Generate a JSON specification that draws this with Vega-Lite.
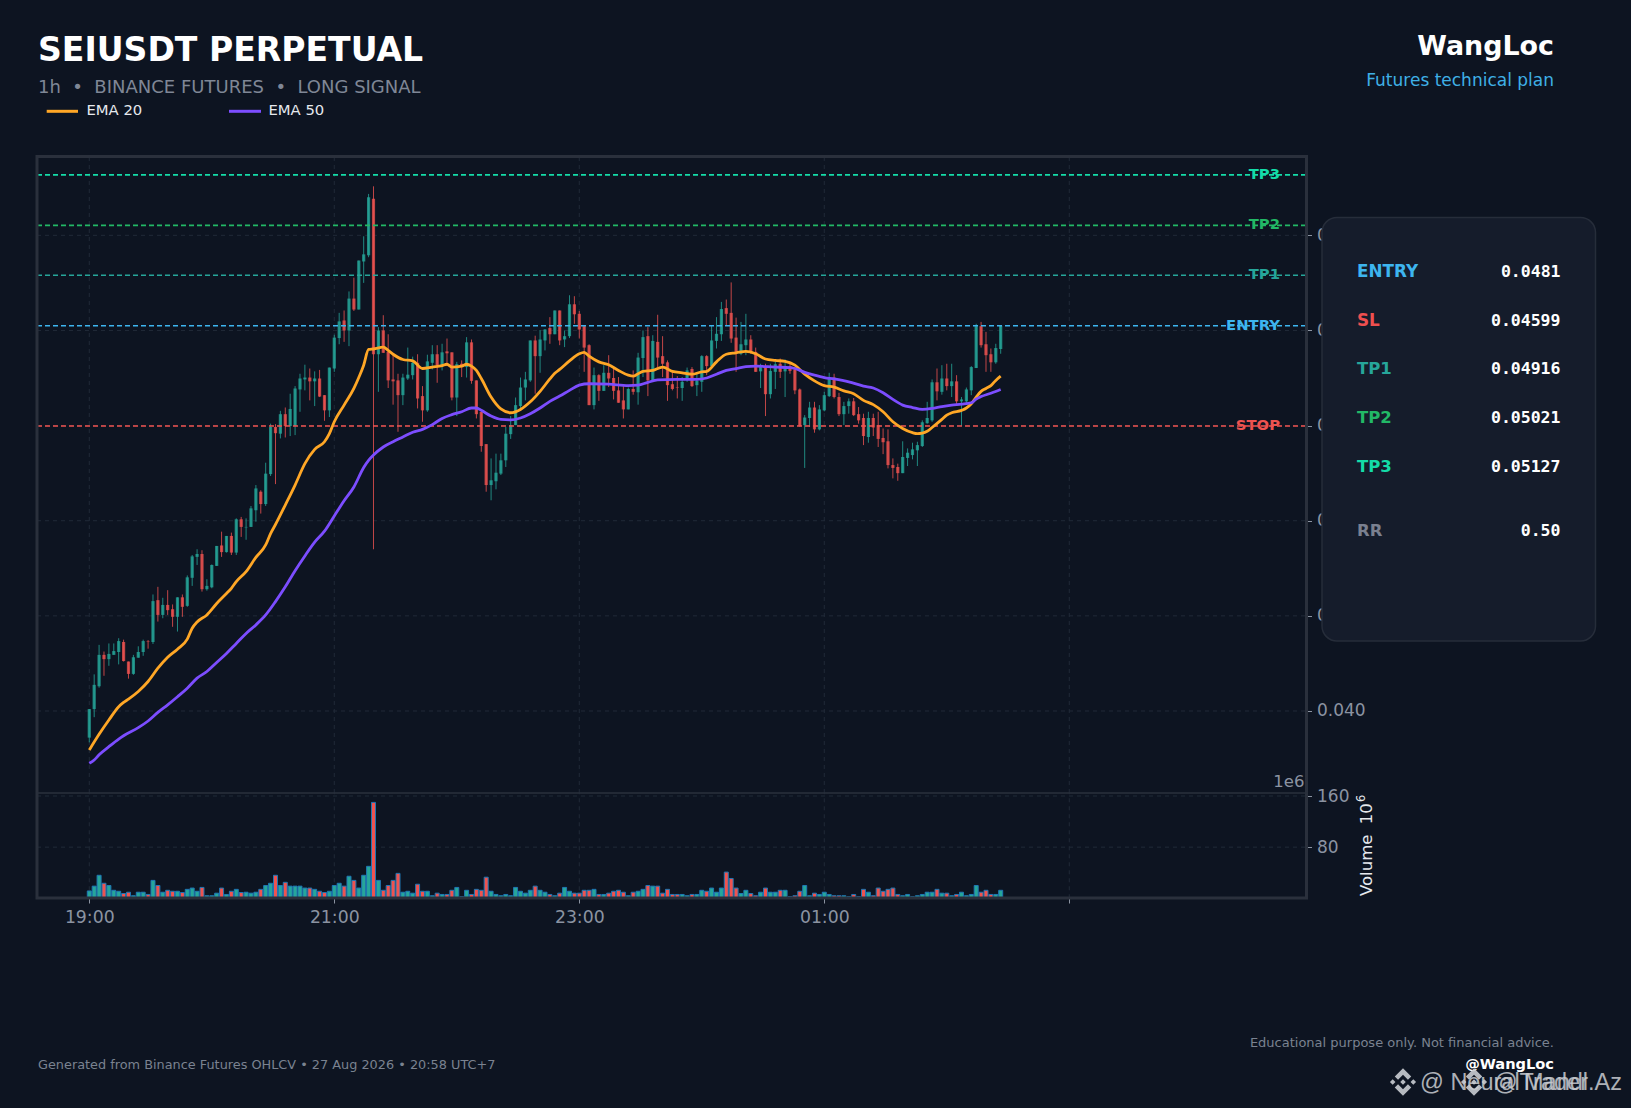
{
"$schema":"https://vega.github.io/schema/vega-lite/v6.json",
"width":1631,"height":1108,"padding":0,"autosize":{"type":"none"},"background":"#0d1421",
"config":{"view":{"stroke":null},"font":"DejaVu Sans"},
"datasets":{
"candles":[
{"bar":0,"open":0.03944,"high":0.04004,"low":0.03934,"close":0.04004,"volume":11.5,"dir":"up"},
{"bar":1,"open":0.04004,"high":0.04077,"low":0.03987,"close":0.04055,"volume":19,"dir":"up"},
{"bar":2,"open":0.04052,"high":0.04139,"low":0.04049,"close":0.04118,"volume":36,"dir":"up"},
{"bar":3,"open":0.04118,"high":0.04125,"low":0.04074,"close":0.04109,"volume":23.5,"dir":"down"},
{"bar":4,"open":0.04109,"high":0.04142,"low":0.04095,"close":0.0412,"volume":20,"dir":"up"},
{"bar":5,"open":0.04118,"high":0.04142,"low":0.04118,"close":0.04126,"volume":12.5,"dir":"up"},
{"bar":6,"open":0.04124,"high":0.04153,"low":0.04098,"close":0.04147,"volume":11,"dir":"up"},
{"bar":7,"open":0.04145,"high":0.0415,"low":0.04104,"close":0.04105,"volume":7.5,"dir":"down"},
{"bar":8,"open":0.04104,"high":0.04104,"low":0.04068,"close":0.04078,"volume":9.5,"dir":"down"},
{"bar":9,"open":0.04078,"high":0.04118,"low":0.04076,"close":0.04113,"volume":4,"dir":"up"},
{"bar":10,"open":0.04112,"high":0.04136,"low":0.04112,"close":0.04124,"volume":9.5,"dir":"up"},
{"bar":11,"open":0.04124,"high":0.0415,"low":0.04116,"close":0.04147,"volume":9.5,"dir":"up"},
{"bar":12,"open":0.04147,"high":0.04149,"low":0.04131,"close":0.04146,"volume":6,"dir":"down"},
{"bar":13,"open":0.04145,"high":0.04245,"low":0.04141,"close":0.04231,"volume":28,"dir":"up"},
{"bar":14,"open":0.04233,"high":0.04261,"low":0.04188,"close":0.04202,"volume":20,"dir":"down"},
{"bar":15,"open":0.04202,"high":0.04238,"low":0.04195,"close":0.04223,"volume":9.5,"dir":"up"},
{"bar":16,"open":0.04223,"high":0.04254,"low":0.04202,"close":0.04212,"volume":12.5,"dir":"down"},
{"bar":17,"open":0.04214,"high":0.04224,"low":0.04177,"close":0.04198,"volume":11,"dir":"down"},
{"bar":18,"open":0.04198,"high":0.04239,"low":0.04167,"close":0.04239,"volume":11,"dir":"up"},
{"bar":19,"open":0.04239,"high":0.04245,"low":0.04198,"close":0.04219,"volume":9,"dir":"down"},
{"bar":20,"open":0.04221,"high":0.04285,"low":0.04219,"close":0.04281,"volume":14,"dir":"up"},
{"bar":21,"open":0.0428,"high":0.04328,"low":0.04263,"close":0.04325,"volume":16,"dir":"up"},
{"bar":22,"open":0.04324,"high":0.0434,"low":0.04307,"close":0.0433,"volume":11,"dir":"up"},
{"bar":23,"open":0.0433,"high":0.04338,"low":0.04251,"close":0.04256,"volume":17,"dir":"down"},
{"bar":24,"open":0.04256,"high":0.04277,"low":0.04253,"close":0.04263,"volume":4,"dir":"up"},
{"bar":25,"open":0.0426,"high":0.04308,"low":0.04258,"close":0.04307,"volume":4,"dir":"up"},
{"bar":26,"open":0.04305,"high":0.04347,"low":0.04305,"close":0.04347,"volume":8,"dir":"up"},
{"bar":27,"open":0.04348,"high":0.04377,"low":0.04324,"close":0.04334,"volume":16,"dir":"down"},
{"bar":28,"open":0.04334,"high":0.04368,"low":0.04333,"close":0.04368,"volume":6,"dir":"up"},
{"bar":29,"open":0.04368,"high":0.04375,"low":0.04328,"close":0.04333,"volume":11,"dir":"down"},
{"bar":30,"open":0.04333,"high":0.04405,"low":0.04328,"close":0.04403,"volume":14,"dir":"up"},
{"bar":31,"open":0.04403,"high":0.04408,"low":0.04366,"close":0.04387,"volume":9,"dir":"down"},
{"bar":32,"open":0.04386,"high":0.04405,"low":0.0436,"close":0.04387,"volume":9.5,"dir":"up"},
{"bar":33,"open":0.04387,"high":0.04431,"low":0.04387,"close":0.04426,"volume":8,"dir":"up"},
{"bar":34,"open":0.04422,"high":0.04475,"low":0.04398,"close":0.04468,"volume":9.5,"dir":"up"},
{"bar":35,"open":0.04461,"high":0.04464,"low":0.04415,"close":0.04435,"volume":14,"dir":"down"},
{"bar":36,"open":0.04435,"high":0.04522,"low":0.04431,"close":0.04499,"volume":20,"dir":"up"},
{"bar":37,"open":0.04498,"high":0.04604,"low":0.04494,"close":0.04597,"volume":23.5,"dir":"up"},
{"bar":38,"open":0.04597,"high":0.04603,"low":0.04477,"close":0.04584,"volume":36,"dir":"down"},
{"bar":39,"open":0.04583,"high":0.04631,"low":0.04573,"close":0.04624,"volume":20,"dir":"up"},
{"bar":40,"open":0.04624,"high":0.04638,"low":0.04575,"close":0.04599,"volume":25,"dir":"down"},
{"bar":41,"open":0.04599,"high":0.04667,"low":0.04578,"close":0.04635,"volume":19,"dir":"up"},
{"bar":42,"open":0.04599,"high":0.04683,"low":0.0458,"close":0.04678,"volume":19,"dir":"up"},
{"bar":43,"open":0.04676,"high":0.04709,"low":0.04629,"close":0.04699,"volume":19,"dir":"up"},
{"bar":44,"open":0.04697,"high":0.04728,"low":0.04674,"close":0.04701,"volume":16,"dir":"up"},
{"bar":45,"open":0.04701,"high":0.0472,"low":0.04653,"close":0.04693,"volume":16,"dir":"down"},
{"bar":46,"open":0.04693,"high":0.04714,"low":0.04641,"close":0.04699,"volume":14,"dir":"up"},
{"bar":47,"open":0.04699,"high":0.04717,"low":0.0466,"close":0.04661,"volume":11,"dir":"down"},
{"bar":48,"open":0.04664,"high":0.04664,"low":0.0461,"close":0.04632,"volume":9,"dir":"down"},
{"bar":49,"open":0.04632,"high":0.04722,"low":0.04618,"close":0.04722,"volume":11,"dir":"up"},
{"bar":50,"open":0.0472,"high":0.04791,"low":0.04713,"close":0.04785,"volume":20,"dir":"up"},
{"bar":51,"open":0.04784,"high":0.04837,"low":0.04771,"close":0.04819,"volume":23.5,"dir":"up"},
{"bar":52,"open":0.04821,"high":0.04842,"low":0.04776,"close":0.048,"volume":19,"dir":"down"},
{"bar":53,"open":0.048,"high":0.04882,"low":0.04767,"close":0.04867,"volume":34.5,"dir":"up"},
{"bar":54,"open":0.04867,"high":0.04911,"low":0.04841,"close":0.04844,"volume":28,"dir":"down"},
{"bar":55,"open":0.04844,"high":0.04947,"low":0.04844,"close":0.04947,"volume":16,"dir":"up"},
{"bar":56,"open":0.04945,"high":0.04998,"low":0.049,"close":0.0496,"volume":36,"dir":"up"},
{"bar":57,"open":0.04958,"high":0.05087,"low":0.04954,"close":0.0508,"volume":50,"dir":"up"},
{"bar":58,"open":0.05077,"high":0.05103,"low":0.0434,"close":0.0475,"volume":150,"dir":"down"},
{"bar":59,"open":0.0475,"high":0.04807,"low":0.04671,"close":0.048,"volume":28,"dir":"up"},
{"bar":60,"open":0.048,"high":0.04832,"low":0.04753,"close":0.04753,"volume":12.5,"dir":"down"},
{"bar":61,"open":0.04755,"high":0.04792,"low":0.04679,"close":0.04695,"volume":20,"dir":"down"},
{"bar":62,"open":0.04697,"high":0.04748,"low":0.04644,"close":0.04693,"volume":28,"dir":"down"},
{"bar":63,"open":0.04695,"high":0.04709,"low":0.04587,"close":0.04664,"volume":39,"dir":"down"},
{"bar":64,"open":0.04664,"high":0.04709,"low":0.04643,"close":0.04701,"volume":9.5,"dir":"up"},
{"bar":65,"open":0.04699,"high":0.04764,"low":0.04696,"close":0.04707,"volume":11,"dir":"up"},
{"bar":66,"open":0.04706,"high":0.04745,"low":0.04697,"close":0.04732,"volume":8,"dir":"up"},
{"bar":67,"open":0.04732,"high":0.0475,"low":0.04636,"close":0.04657,"volume":22,"dir":"down"},
{"bar":68,"open":0.04662,"high":0.04683,"low":0.04608,"close":0.04632,"volume":11,"dir":"down"},
{"bar":69,"open":0.04632,"high":0.04749,"low":0.04629,"close":0.04735,"volume":11,"dir":"up"},
{"bar":70,"open":0.04732,"high":0.04769,"low":0.04718,"close":0.0475,"volume":4,"dir":"up"},
{"bar":71,"open":0.0475,"high":0.04769,"low":0.0469,"close":0.04727,"volume":8,"dir":"down"},
{"bar":72,"open":0.04725,"high":0.04772,"low":0.04716,"close":0.04754,"volume":6,"dir":"up"},
{"bar":73,"open":0.04756,"high":0.04783,"low":0.04725,"close":0.04752,"volume":6,"dir":"down"},
{"bar":74,"open":0.04754,"high":0.04754,"low":0.04653,"close":0.04659,"volume":12.5,"dir":"down"},
{"bar":75,"open":0.04659,"high":0.04734,"low":0.0462,"close":0.04729,"volume":17,"dir":"up"},
{"bar":76,"open":0.0473,"high":0.04737,"low":0.04702,"close":0.04723,"volume":2.5,"dir":"down"},
{"bar":77,"open":0.04723,"high":0.04786,"low":0.04701,"close":0.04775,"volume":12.5,"dir":"up"},
{"bar":78,"open":0.04775,"high":0.04781,"low":0.04688,"close":0.04694,"volume":6,"dir":"down"},
{"bar":79,"open":0.04695,"high":0.04695,"low":0.04615,"close":0.04624,"volume":14,"dir":"down"},
{"bar":80,"open":0.04629,"high":0.04629,"low":0.04545,"close":0.04557,"volume":12.5,"dir":"down"},
{"bar":81,"open":0.04561,"high":0.04561,"low":0.04461,"close":0.04475,"volume":33,"dir":"down"},
{"bar":82,"open":0.04475,"high":0.04531,"low":0.04443,"close":0.04485,"volume":11,"dir":"up"},
{"bar":83,"open":0.04483,"high":0.04541,"low":0.04466,"close":0.04501,"volume":6,"dir":"up"},
{"bar":84,"open":0.04499,"high":0.04541,"low":0.04496,"close":0.04527,"volume":4,"dir":"up"},
{"bar":85,"open":0.04527,"high":0.04597,"low":0.04513,"close":0.04583,"volume":6,"dir":"up"},
{"bar":86,"open":0.04582,"high":0.0462,"low":0.04572,"close":0.04601,"volume":4,"dir":"up"},
{"bar":87,"open":0.04601,"high":0.04659,"low":0.04601,"close":0.04643,"volume":17,"dir":"up"},
{"bar":88,"open":0.04641,"high":0.04701,"low":0.04636,"close":0.0468,"volume":11,"dir":"up"},
{"bar":89,"open":0.0468,"high":0.04713,"low":0.04653,"close":0.04697,"volume":8,"dir":"up"},
{"bar":90,"open":0.04695,"high":0.04779,"low":0.04692,"close":0.04779,"volume":12.5,"dir":"up"},
{"bar":91,"open":0.04779,"high":0.04789,"low":0.04667,"close":0.04746,"volume":19,"dir":"down"},
{"bar":92,"open":0.04746,"high":0.04801,"low":0.04711,"close":0.04781,"volume":12.5,"dir":"up"},
{"bar":93,"open":0.04779,"high":0.04803,"low":0.04758,"close":0.04802,"volume":9.5,"dir":"up"},
{"bar":94,"open":0.04805,"high":0.04828,"low":0.04772,"close":0.04792,"volume":6,"dir":"down"},
{"bar":95,"open":0.04792,"high":0.04842,"low":0.04792,"close":0.04842,"volume":4,"dir":"up"},
{"bar":96,"open":0.04842,"high":0.04842,"low":0.04769,"close":0.04779,"volume":8,"dir":"down"},
{"bar":97,"open":0.04781,"high":0.048,"low":0.04765,"close":0.04788,"volume":17,"dir":"up"},
{"bar":98,"open":0.04788,"high":0.04874,"low":0.04784,"close":0.04855,"volume":11,"dir":"up"},
{"bar":99,"open":0.04855,"high":0.04872,"low":0.04814,"close":0.04834,"volume":8,"dir":"down"},
{"bar":100,"open":0.04835,"high":0.04841,"low":0.04783,"close":0.04802,"volume":8,"dir":"down"},
{"bar":101,"open":0.04809,"high":0.04809,"low":0.04713,"close":0.04764,"volume":12.5,"dir":"down"},
{"bar":102,"open":0.04769,"high":0.04771,"low":0.04643,"close":0.04643,"volume":12.5,"dir":"down"},
{"bar":103,"open":0.04643,"high":0.04722,"low":0.04634,"close":0.04706,"volume":14,"dir":"up"},
{"bar":104,"open":0.04706,"high":0.04708,"low":0.04652,"close":0.04673,"volume":6,"dir":"down"},
{"bar":105,"open":0.04673,"high":0.04727,"low":0.04673,"close":0.04711,"volume":6,"dir":"up"},
{"bar":106,"open":0.04711,"high":0.04748,"low":0.04681,"close":0.04699,"volume":8,"dir":"down"},
{"bar":107,"open":0.047,"high":0.0472,"low":0.04655,"close":0.04673,"volume":11,"dir":"down"},
{"bar":108,"open":0.04674,"high":0.04702,"low":0.04648,"close":0.04648,"volume":12.5,"dir":"down"},
{"bar":109,"open":0.04653,"high":0.04685,"low":0.04615,"close":0.04634,"volume":9.5,"dir":"down"},
{"bar":110,"open":0.04634,"high":0.0468,"low":0.04634,"close":0.04677,"volume":4,"dir":"up"},
{"bar":111,"open":0.04677,"high":0.04716,"low":0.04665,"close":0.04671,"volume":9.5,"dir":"down"},
{"bar":112,"open":0.0467,"high":0.04753,"low":0.04644,"close":0.04743,"volume":11,"dir":"up"},
{"bar":113,"open":0.04742,"high":0.048,"low":0.04702,"close":0.04786,"volume":14,"dir":"up"},
{"bar":114,"open":0.04788,"high":0.04807,"low":0.04662,"close":0.04695,"volume":20,"dir":"down"},
{"bar":115,"open":0.04695,"high":0.0479,"low":0.04695,"close":0.04778,"volume":19,"dir":"up"},
{"bar":116,"open":0.04776,"high":0.04833,"low":0.04723,"close":0.04743,"volume":19,"dir":"down"},
{"bar":117,"open":0.04746,"high":0.04788,"low":0.04702,"close":0.0473,"volume":8,"dir":"down"},
{"bar":118,"open":0.04733,"high":0.04737,"low":0.04652,"close":0.04685,"volume":14,"dir":"down"},
{"bar":119,"open":0.04687,"high":0.04713,"low":0.04674,"close":0.04677,"volume":6,"dir":"down"},
{"bar":120,"open":0.04681,"high":0.04704,"low":0.04657,"close":0.0468,"volume":6,"dir":"down"},
{"bar":121,"open":0.04679,"high":0.04702,"low":0.04652,"close":0.04692,"volume":6,"dir":"up"},
{"bar":122,"open":0.04698,"high":0.04722,"low":0.04692,"close":0.04716,"volume":4,"dir":"up"},
{"bar":123,"open":0.04719,"high":0.04723,"low":0.04681,"close":0.04683,"volume":6,"dir":"down"},
{"bar":124,"open":0.04685,"high":0.04709,"low":0.04662,"close":0.04694,"volume":6,"dir":"up"},
{"bar":125,"open":0.04692,"high":0.04748,"low":0.04671,"close":0.04746,"volume":12.5,"dir":"up"},
{"bar":126,"open":0.04746,"high":0.04748,"low":0.04706,"close":0.04725,"volume":11,"dir":"down"},
{"bar":127,"open":0.04725,"high":0.04811,"low":0.04723,"close":0.04779,"volume":16,"dir":"up"},
{"bar":128,"open":0.04778,"high":0.04828,"low":0.04762,"close":0.04793,"volume":9.5,"dir":"up"},
{"bar":129,"open":0.04792,"high":0.0486,"low":0.04778,"close":0.04845,"volume":16,"dir":"up"},
{"bar":130,"open":0.04847,"high":0.04865,"low":0.04811,"close":0.04835,"volume":41,"dir":"down"},
{"bar":131,"open":0.04837,"high":0.04901,"low":0.04774,"close":0.04783,"volume":31,"dir":"down"},
{"bar":132,"open":0.04785,"high":0.04827,"low":0.04713,"close":0.04751,"volume":16,"dir":"down"},
{"bar":133,"open":0.04751,"high":0.04818,"low":0.04748,"close":0.04771,"volume":7.5,"dir":"up"},
{"bar":134,"open":0.04769,"high":0.04835,"low":0.04748,"close":0.04781,"volume":12.5,"dir":"up"},
{"bar":135,"open":0.04781,"high":0.0479,"low":0.04751,"close":0.04755,"volume":7.5,"dir":"down"},
{"bar":136,"open":0.04755,"high":0.04764,"low":0.04713,"close":0.04713,"volume":4,"dir":"down"},
{"bar":137,"open":0.04714,"high":0.0473,"low":0.04679,"close":0.04723,"volume":9.5,"dir":"up"},
{"bar":138,"open":0.04723,"high":0.0473,"low":0.0462,"close":0.04666,"volume":16,"dir":"down"},
{"bar":139,"open":0.04666,"high":0.0473,"low":0.04657,"close":0.04715,"volume":9.5,"dir":"up"},
{"bar":140,"open":0.04713,"high":0.04739,"low":0.04677,"close":0.04729,"volume":9.5,"dir":"up"},
{"bar":141,"open":0.0473,"high":0.04741,"low":0.047,"close":0.04713,"volume":12.5,"dir":"down"},
{"bar":142,"open":0.04714,"high":0.04739,"low":0.0466,"close":0.04722,"volume":12.5,"dir":"up"},
{"bar":143,"open":0.04725,"high":0.0473,"low":0.04709,"close":0.04715,"volume":2.5,"dir":"down"},
{"bar":144,"open":0.04718,"high":0.04723,"low":0.04666,"close":0.04674,"volume":4,"dir":"down"},
{"bar":145,"open":0.04676,"high":0.04678,"low":0.04597,"close":0.04599,"volume":11,"dir":"down"},
{"bar":146,"open":0.04601,"high":0.04622,"low":0.04511,"close":0.04617,"volume":20,"dir":"up"},
{"bar":147,"open":0.04616,"high":0.0465,"low":0.04597,"close":0.04638,"volume":4,"dir":"up"},
{"bar":148,"open":0.04638,"high":0.0465,"low":0.04585,"close":0.04592,"volume":8,"dir":"down"},
{"bar":149,"open":0.04592,"high":0.04643,"low":0.0459,"close":0.04634,"volume":6,"dir":"up"},
{"bar":150,"open":0.04632,"high":0.04671,"low":0.0463,"close":0.04664,"volume":9.5,"dir":"up"},
{"bar":151,"open":0.04662,"high":0.04711,"low":0.0466,"close":0.04699,"volume":6,"dir":"up"},
{"bar":152,"open":0.04701,"high":0.04709,"low":0.04657,"close":0.0466,"volume":4,"dir":"down"},
{"bar":153,"open":0.0466,"high":0.04669,"low":0.0462,"close":0.04624,"volume":4,"dir":"down"},
{"bar":154,"open":0.04624,"high":0.0465,"low":0.04601,"close":0.04641,"volume":4,"dir":"up"},
{"bar":155,"open":0.04641,"high":0.04657,"low":0.04625,"close":0.04651,"volume":2.5,"dir":"up"},
{"bar":156,"open":0.04651,"high":0.04658,"low":0.0462,"close":0.04622,"volume":6,"dir":"down"},
{"bar":157,"open":0.04624,"high":0.04639,"low":0.04604,"close":0.04611,"volume":2.5,"dir":"down"},
{"bar":158,"open":0.04616,"high":0.04625,"low":0.04559,"close":0.04578,"volume":14,"dir":"down"},
{"bar":159,"open":0.04576,"high":0.04629,"low":0.04564,"close":0.04616,"volume":9.5,"dir":"up"},
{"bar":160,"open":0.04616,"high":0.04625,"low":0.04578,"close":0.04596,"volume":4,"dir":"down"},
{"bar":161,"open":0.04601,"high":0.04629,"low":0.04555,"close":0.04572,"volume":16,"dir":"down"},
{"bar":162,"open":0.04574,"high":0.04594,"low":0.0454,"close":0.04565,"volume":11,"dir":"down"},
{"bar":163,"open":0.04567,"high":0.04592,"low":0.0451,"close":0.04517,"volume":14,"dir":"down"},
{"bar":164,"open":0.04517,"high":0.04531,"low":0.04489,"close":0.04511,"volume":16,"dir":"down"},
{"bar":165,"open":0.04513,"high":0.0452,"low":0.04484,"close":0.045,"volume":6,"dir":"down"},
{"bar":166,"open":0.045,"high":0.04567,"low":0.045,"close":0.04534,"volume":4,"dir":"up"},
{"bar":167,"open":0.04532,"high":0.04552,"low":0.04515,"close":0.04543,"volume":6,"dir":"up"},
{"bar":168,"open":0.04538,"high":0.04564,"low":0.04529,"close":0.0455,"volume":2.5,"dir":"up"},
{"bar":169,"open":0.04548,"high":0.04566,"low":0.04515,"close":0.04559,"volume":4,"dir":"up"},
{"bar":170,"open":0.04557,"high":0.04611,"low":0.04555,"close":0.04607,"volume":6,"dir":"up"},
{"bar":171,"open":0.04605,"high":0.0465,"low":0.04604,"close":0.04616,"volume":9.5,"dir":"up"},
{"bar":172,"open":0.04611,"high":0.04697,"low":0.04608,"close":0.04691,"volume":9.5,"dir":"up"},
{"bar":173,"open":0.04691,"high":0.0472,"low":0.04653,"close":0.04672,"volume":14,"dir":"down"},
{"bar":174,"open":0.04671,"high":0.04727,"low":0.04665,"close":0.04699,"volume":8,"dir":"up"},
{"bar":175,"open":0.04699,"high":0.0473,"low":0.04674,"close":0.04683,"volume":8,"dir":"down"},
{"bar":176,"open":0.04683,"high":0.0473,"low":0.0466,"close":0.04693,"volume":4,"dir":"up"},
{"bar":177,"open":0.04693,"high":0.04706,"low":0.04643,"close":0.04651,"volume":6,"dir":"down"},
{"bar":178,"open":0.04651,"high":0.0466,"low":0.04599,"close":0.04655,"volume":9.5,"dir":"up"},
{"bar":179,"open":0.04651,"high":0.0468,"low":0.04646,"close":0.04676,"volume":4,"dir":"up"},
{"bar":180,"open":0.04674,"high":0.04725,"low":0.04664,"close":0.04723,"volume":6,"dir":"up"},
{"bar":181,"open":0.04721,"high":0.04814,"low":0.04721,"close":0.04809,"volume":20,"dir":"up"},
{"bar":182,"open":0.04809,"high":0.04818,"low":0.04764,"close":0.04769,"volume":9.5,"dir":"down"},
{"bar":183,"open":0.04771,"high":0.04797,"low":0.04713,"close":0.04748,"volume":12.5,"dir":"down"},
{"bar":184,"open":0.0475,"high":0.04762,"low":0.04713,"close":0.04733,"volume":6,"dir":"down"},
{"bar":185,"open":0.04733,"high":0.04772,"low":0.0473,"close":0.04763,"volume":6,"dir":"up"},
{"bar":186,"open":0.04761,"high":0.0481,"low":0.04751,"close":0.0481,"volume":12.5,"dir":"up"}
],
"ema":[
{"bar":0,"ema":0.03918,"series":"EMA 20"},{"bar":2,"ema":0.03951,"series":"EMA 20"},{"bar":4,"ema":0.03981,"series":"EMA 20"},{"bar":6,"ema":0.04009,"series":"EMA 20"},{"bar":7,"ema":0.04018,"series":"EMA 20"},{"bar":8,"ema":0.04025,"series":"EMA 20"},{"bar":10,"ema":0.04041,"series":"EMA 20"},{"bar":12,"ema":0.04062,"series":"EMA 20"},{"bar":14,"ema":0.0409,"series":"EMA 20"},{"bar":16,"ema":0.04113,"series":"EMA 20"},{"bar":18,"ema":0.0413,"series":"EMA 20"},{"bar":20,"ema":0.04151,"series":"EMA 20"},{"bar":21,"ema":0.04174,"series":"EMA 20"},{"bar":22,"ema":0.04187,"series":"EMA 20"},{"bar":24,"ema":0.04202,"series":"EMA 20"},{"bar":26,"ema":0.04226,"series":"EMA 20"},{"bar":28,"ema":0.04247,"series":"EMA 20"},{"bar":29,"ema":0.04258,"series":"EMA 20"},{"bar":30,"ema":0.04272,"series":"EMA 20"},{"bar":32,"ema":0.04293,"series":"EMA 20"},{"bar":34,"ema":0.04323,"series":"EMA 20"},{"bar":36,"ema":0.04349,"series":"EMA 20"},{"bar":37,"ema":0.04373,"series":"EMA 20"},{"bar":38,"ema":0.04392,"series":"EMA 20"},{"bar":40,"ema":0.04433,"series":"EMA 20"},{"bar":42,"ema":0.04475,"series":"EMA 20"},{"bar":44,"ema":0.0452,"series":"EMA 20"},{"bar":46,"ema":0.0455,"series":"EMA 20"},{"bar":48,"ema":0.04566,"series":"EMA 20"},{"bar":49,"ema":0.04583,"series":"EMA 20"},{"bar":50,"ema":0.04608,"series":"EMA 20"},{"bar":52,"ema":0.04643,"series":"EMA 20"},{"bar":54,"ema":0.04678,"series":"EMA 20"},{"bar":55,"ema":0.04701,"series":"EMA 20"},{"bar":56,"ema":0.04727,"series":"EMA 20"},{"bar":57,"ema":0.0476,"series":"EMA 20"},{"bar":58,"ema":0.04761,"series":"EMA 20"},{"bar":60,"ema":0.04765,"series":"EMA 20"},{"bar":61,"ema":0.04758,"series":"EMA 20"},{"bar":62,"ema":0.0475,"series":"EMA 20"},{"bar":64,"ema":0.04739,"series":"EMA 20"},{"bar":66,"ema":0.04736,"series":"EMA 20"},{"bar":68,"ema":0.0472,"series":"EMA 20"},{"bar":70,"ema":0.04723,"series":"EMA 20"},{"bar":72,"ema":0.04726,"series":"EMA 20"},{"bar":73,"ema":0.04729,"series":"EMA 20"},{"bar":74,"ema":0.04723,"series":"EMA 20"},{"bar":76,"ema":0.04725,"series":"EMA 20"},{"bar":77,"ema":0.04729,"series":"EMA 20"},{"bar":78,"ema":0.04725,"series":"EMA 20"},{"bar":79,"ema":0.04716,"series":"EMA 20"},{"bar":80,"ema":0.04699,"series":"EMA 20"},{"bar":82,"ema":0.0466,"series":"EMA 20"},{"bar":84,"ema":0.04635,"series":"EMA 20"},{"bar":86,"ema":0.04627,"series":"EMA 20"},{"bar":88,"ema":0.04634,"series":"EMA 20"},{"bar":90,"ema":0.0465,"series":"EMA 20"},{"bar":92,"ema":0.04672,"series":"EMA 20"},{"bar":94,"ema":0.04698,"series":"EMA 20"},{"bar":95,"ema":0.0471,"series":"EMA 20"},{"bar":96,"ema":0.04718,"series":"EMA 20"},{"bar":98,"ema":0.04736,"series":"EMA 20"},{"bar":100,"ema":0.04751,"series":"EMA 20"},{"bar":101,"ema":0.04754,"series":"EMA 20"},{"bar":102,"ema":0.04746,"series":"EMA 20"},{"bar":104,"ema":0.04734,"series":"EMA 20"},{"bar":106,"ema":0.04728,"series":"EMA 20"},{"bar":108,"ema":0.04716,"series":"EMA 20"},{"bar":110,"ema":0.04706,"series":"EMA 20"},{"bar":111,"ema":0.04704,"series":"EMA 20"},{"bar":112,"ema":0.04709,"series":"EMA 20"},{"bar":113,"ema":0.04714,"series":"EMA 20"},{"bar":115,"ema":0.04716,"series":"EMA 20"},{"bar":117,"ema":0.04723,"series":"EMA 20"},{"bar":119,"ema":0.04714,"series":"EMA 20"},{"bar":121,"ema":0.04711,"series":"EMA 20"},{"bar":123,"ema":0.04708,"series":"EMA 20"},{"bar":125,"ema":0.04713,"series":"EMA 20"},{"bar":126,"ema":0.04714,"series":"EMA 20"},{"bar":128,"ema":0.04734,"series":"EMA 20"},{"bar":130,"ema":0.0475,"series":"EMA 20"},{"bar":132,"ema":0.04753,"series":"EMA 20"},{"bar":134,"ema":0.04756,"series":"EMA 20"},{"bar":136,"ema":0.04751,"series":"EMA 20"},{"bar":138,"ema":0.0474,"series":"EMA 20"},{"bar":140,"ema":0.04737,"series":"EMA 20"},{"bar":142,"ema":0.04735,"series":"EMA 20"},{"bar":144,"ema":0.04727,"series":"EMA 20"},{"bar":146,"ema":0.04708,"series":"EMA 20"},{"bar":148,"ema":0.04694,"series":"EMA 20"},{"bar":150,"ema":0.04684,"series":"EMA 20"},{"bar":152,"ema":0.04681,"series":"EMA 20"},{"bar":154,"ema":0.04673,"series":"EMA 20"},{"bar":156,"ema":0.04667,"series":"EMA 20"},{"bar":158,"ema":0.04653,"series":"EMA 20"},{"bar":160,"ema":0.04644,"series":"EMA 20"},{"bar":162,"ema":0.04629,"series":"EMA 20"},{"bar":164,"ema":0.04608,"series":"EMA 20"},{"bar":166,"ema":0.04594,"series":"EMA 20"},{"bar":168,"ema":0.04585,"series":"EMA 20"},{"bar":169,"ema":0.04583,"series":"EMA 20"},{"bar":170,"ema":0.04584,"series":"EMA 20"},{"bar":171,"ema":0.04588,"series":"EMA 20"},{"bar":172,"ema":0.04596,"series":"EMA 20"},{"bar":174,"ema":0.04613,"series":"EMA 20"},{"bar":175,"ema":0.04622,"series":"EMA 20"},{"bar":176,"ema":0.04627,"series":"EMA 20"},{"bar":178,"ema":0.04632,"series":"EMA 20"},{"bar":179,"ema":0.04637,"series":"EMA 20"},{"bar":180,"ema":0.04646,"series":"EMA 20"},{"bar":181,"ema":0.0466,"series":"EMA 20"},{"bar":182,"ema":0.04672,"series":"EMA 20"},{"bar":183,"ema":0.04678,"series":"EMA 20"},{"bar":184,"ema":0.04684,"series":"EMA 20"},{"bar":185,"ema":0.04695,"series":"EMA 20"},{"bar":186,"ema":0.04704,"series":"EMA 20"},
{"bar":0,"ema":0.0389,"series":"EMA 50"},{"bar":1,"ema":0.03897,"series":"EMA 50"},{"bar":2,"ema":0.03908,"series":"EMA 50"},{"bar":4,"ema":0.03925,"series":"EMA 50"},{"bar":6,"ema":0.03941,"series":"EMA 50"},{"bar":7,"ema":0.03948,"series":"EMA 50"},{"bar":10,"ema":0.03965,"series":"EMA 50"},{"bar":12,"ema":0.03979,"series":"EMA 50"},{"bar":14,"ema":0.03997,"series":"EMA 50"},{"bar":16,"ema":0.04013,"series":"EMA 50"},{"bar":18,"ema":0.0403,"series":"EMA 50"},{"bar":20,"ema":0.04048,"series":"EMA 50"},{"bar":22,"ema":0.04069,"series":"EMA 50"},{"bar":24,"ema":0.04083,"series":"EMA 50"},{"bar":26,"ema":0.04102,"series":"EMA 50"},{"bar":28,"ema":0.04121,"series":"EMA 50"},{"bar":30,"ema":0.04142,"series":"EMA 50"},{"bar":32,"ema":0.04163,"series":"EMA 50"},{"bar":34,"ema":0.04181,"series":"EMA 50"},{"bar":36,"ema":0.04202,"series":"EMA 50"},{"bar":38,"ema":0.0423,"series":"EMA 50"},{"bar":40,"ema":0.04261,"series":"EMA 50"},{"bar":42,"ema":0.04295,"series":"EMA 50"},{"bar":44,"ema":0.04326,"series":"EMA 50"},{"bar":46,"ema":0.04355,"series":"EMA 50"},{"bar":48,"ema":0.04378,"series":"EMA 50"},{"bar":50,"ema":0.0441,"series":"EMA 50"},{"bar":52,"ema":0.04442,"series":"EMA 50"},{"bar":54,"ema":0.04471,"series":"EMA 50"},{"bar":56,"ema":0.04512,"series":"EMA 50"},{"bar":57,"ema":0.04527,"series":"EMA 50"},{"bar":58,"ema":0.04538,"series":"EMA 50"},{"bar":60,"ema":0.04555,"series":"EMA 50"},{"bar":62,"ema":0.04566,"series":"EMA 50"},{"bar":64,"ema":0.04576,"series":"EMA 50"},{"bar":66,"ema":0.04586,"series":"EMA 50"},{"bar":68,"ema":0.04592,"series":"EMA 50"},{"bar":70,"ema":0.04602,"series":"EMA 50"},{"bar":72,"ema":0.04615,"series":"EMA 50"},{"bar":74,"ema":0.04623,"series":"EMA 50"},{"bar":76,"ema":0.04629,"series":"EMA 50"},{"bar":78,"ema":0.04637,"series":"EMA 50"},{"bar":79,"ema":0.04637,"series":"EMA 50"},{"bar":80,"ema":0.04632,"series":"EMA 50"},{"bar":82,"ema":0.0462,"series":"EMA 50"},{"bar":84,"ema":0.04613,"series":"EMA 50"},{"bar":86,"ema":0.04612,"series":"EMA 50"},{"bar":88,"ema":0.04616,"series":"EMA 50"},{"bar":90,"ema":0.04625,"series":"EMA 50"},{"bar":92,"ema":0.04637,"series":"EMA 50"},{"bar":94,"ema":0.04651,"series":"EMA 50"},{"bar":96,"ema":0.04662,"series":"EMA 50"},{"bar":98,"ema":0.04674,"series":"EMA 50"},{"bar":100,"ema":0.04685,"series":"EMA 50"},{"bar":102,"ema":0.04688,"series":"EMA 50"},{"bar":106,"ema":0.04687,"series":"EMA 50"},{"bar":110,"ema":0.04684,"series":"EMA 50"},{"bar":112,"ema":0.04685,"series":"EMA 50"},{"bar":114,"ema":0.04691,"series":"EMA 50"},{"bar":116,"ema":0.04696,"series":"EMA 50"},{"bar":120,"ema":0.04697,"series":"EMA 50"},{"bar":124,"ema":0.04697,"series":"EMA 50"},{"bar":126,"ema":0.047,"series":"EMA 50"},{"bar":128,"ema":0.04708,"series":"EMA 50"},{"bar":130,"ema":0.04716,"series":"EMA 50"},{"bar":132,"ema":0.0472,"series":"EMA 50"},{"bar":134,"ema":0.04724,"series":"EMA 50"},{"bar":136,"ema":0.04725,"series":"EMA 50"},{"bar":140,"ema":0.04723,"series":"EMA 50"},{"bar":143,"ema":0.04722,"series":"EMA 50"},{"bar":144,"ema":0.0472,"series":"EMA 50"},{"bar":146,"ema":0.04712,"series":"EMA 50"},{"bar":148,"ema":0.04706,"series":"EMA 50"},{"bar":150,"ema":0.04701,"series":"EMA 50"},{"bar":152,"ema":0.04698,"series":"EMA 50"},{"bar":155,"ema":0.04692,"series":"EMA 50"},{"bar":158,"ema":0.04683,"series":"EMA 50"},{"bar":160,"ema":0.04679,"series":"EMA 50"},{"bar":162,"ema":0.04669,"series":"EMA 50"},{"bar":164,"ema":0.04655,"series":"EMA 50"},{"bar":166,"ema":0.04643,"series":"EMA 50"},{"bar":168,"ema":0.04638,"series":"EMA 50"},{"bar":170,"ema":0.04634,"series":"EMA 50"},{"bar":172,"ema":0.04636,"series":"EMA 50"},{"bar":174,"ema":0.0464,"series":"EMA 50"},{"bar":176,"ema":0.04643,"series":"EMA 50"},{"bar":178,"ema":0.04645,"series":"EMA 50"},{"bar":180,"ema":0.04648,"series":"EMA 50"},{"bar":181,"ema":0.04656,"series":"EMA 50"},{"bar":182,"ema":0.04661,"series":"EMA 50"},{"bar":184,"ema":0.04668,"series":"EMA 50"},{"bar":186,"ema":0.04676,"series":"EMA 50"}
],
"levels":[{"level":"TP3","price":0.05127},{"level":"TP2","price":0.05021},{"level":"TP1","price":0.04916},{"level":"ENTRY","price":0.0481},{"level":"STOP","price":0.04599}],
"priceGrid":[{"price":0.04},{"price":0.042},{"price":0.044},{"price":0.046},{"price":0.048},{"price":0.05}],
"volGrid":[{"volume":80},{"volume":160}],
"timeGrid":[{"bar":0},{"bar":50},{"bar":100},{"bar":150},{"bar":200}]
},
"resolve":{"scale":{"x":"independent","y":"independent"},"axis":{"x":"independent","y":"independent"}},
"layer":[
{"layer":[
{"data":{"name":"priceGrid"},"mark":{"type":"rule","color":"#212a38","strokeWidth":1,"strokeDash":[4,4]},"encoding":{
"x":{"datum":-10.67,"type":"quantitative","scale":{"domain":[-10.67,248.41],"range":[37,1306.5],"nice":false,"zero":false},"axis":null},"x2":{"datum":248.41},
"y":{"field":"price","type":"quantitative","scale":{"domain":[0.038276,0.051657],"range":[793,156.5],"nice":false,"zero":false},"axis":{"orient":"right","offset":-324.5,"values":[0.04,0.042,0.044,0.046,0.048,0.05],"format":".3f","title":null,"domain":false,"grid":false,"tickSize":5,"tickColor":"#8b93a1","labelColor":"#8b93a1","labelFontSize":17,"labelPadding":5}}}},
{"data":{"name":"timeGrid"},"mark":{"type":"rule","color":"#212a38","strokeWidth":1,"strokeDash":[4,4]},"encoding":{"x":{"field":"bar","type":"quantitative","axis":null},"y":{"datum":0.038276,"type":"quantitative"},"y2":{"datum":0.051657}}},
{"data":{"name":"candles"},"mark":{"type":"rule","strokeWidth":1,"opacity":0.8},"encoding":{"x":{"field":"bar","type":"quantitative","axis":null},"y":{"field":"low","type":"quantitative"},"y2":{"field":"high"},"color":{"field":"dir","type":"nominal","legend":null,"scale":{"domain":["up","down","TP3","TP2","TP1","ENTRY","STOP","EMA 20","EMA 50"],"range":["#26a69a","#ef5350","#14dca8","#22b866","#26a69a","#3db5ef","#ef5350","#ffa726","#7c4dff"]}}}},
{"data":{"name":"candles"},"mark":{"type":"rule","strokeWidth":3.2,"opacity":0.8},"encoding":{"x":{"field":"bar","type":"quantitative","axis":null},"y":{"field":"open","type":"quantitative"},"y2":{"field":"close"},"color":{"field":"dir","type":"nominal","legend":null}}},
{"data":{"name":"levels"},"mark":{"type":"rule","strokeWidth":1.6,"strokeDash":[5,3]},"encoding":{"x":{"datum":-10.67,"type":"quantitative","axis":null},"x2":{"datum":248.41},"y":{"field":"price","type":"quantitative"},"color":{"field":"level","type":"nominal","legend":null}}},
{"data":{"name":"ema"},"mark":{"type":"line","strokeWidth":2.8,"interpolate":"monotone"},"encoding":{"x":{"field":"bar","type":"quantitative","axis":null},"y":{"field":"ema","type":"quantitative"},"color":{"field":"series","type":"nominal","legend":null}}},
{"data":{"name":"levels"},"mark":{"type":"text","align":"right","baseline":"middle","fontWeight":"bold","fontSize":14.8},"encoding":{"x":{"datum":243,"type":"quantitative","axis":null},"y":{"field":"price","type":"quantitative"},"text":{"field":"level"},"color":{"field":"level","type":"nominal","legend":null}}}
]},
{"layer":[
{"data":{"name":"volGrid"},"mark":{"type":"rule","color":"#212a38","strokeWidth":1,"strokeDash":[4,4]},"encoding":{
"x":{"datum":-10.67,"type":"quantitative","scale":{"domain":[-10.67,248.41],"range":[37,1306.5],"nice":false,"zero":false,"padding":0}},"x2":{"datum":248.41},
"y":{"field":"volume","type":"quantitative","scale":{"domain":[0,164.7],"range":[898.3,793],"nice":false},"axis":{"orient":"right","offset":-324.5,"values":[80,160],"format":"d","title":null,"domain":false,"grid":false,"tickSize":5,"tickColor":"#8b93a1","labelColor":"#8b93a1","labelFontSize":17,"labelPadding":5}}}},
{"data":{"name":"timeGrid"},"mark":{"type":"rule","color":"#212a38","strokeWidth":1,"strokeDash":[4,4]},"encoding":{"x":{"field":"bar","type":"quantitative","axis":{"orient":"bottom","offset":-210,"values":[0,50,100,150,200],"labelExpr":"datum.value==0?'19:00':datum.value==50?'21:00':datum.value==100?'23:00':datum.value==150?'01:00':''","title":null,"domain":false,"grid":false,"tickSize":5,"tickColor":"#8b93a1","labelColor":"#8b93a1","labelFontSize":17.3,"labelPadding":5,"labelOverlap":false,"labelFlush":false}},"y":{"datum":0,"type":"quantitative"},"y2":{"datum":164.7}}},
{"data":{"name":"candles"},"mark":{"type":"bar","size":4,"stroke":"#1f77b4","strokeWidth":1},"encoding":{"x":{"field":"bar","type":"quantitative"},"y":{"field":"volume","type":"quantitative"},"color":{"field":"dir","type":"nominal","legend":null}}}
]},
{"layer":[
{"data":{"values":[{"t":"frame"}]},"mark":{"type":"rect","filled":false,"stroke":"#2a303c","strokeWidth":3},"encoding":{"x":{"datum":37,"type":"quantitative","scale":{"domain":[0,1631],"range":[0,1631],"nice":false,"zero":false},"axis":null},"x2":{"datum":1306.5},"y":{"datum":156.5,"type":"quantitative","scale":{"domain":[0,1108],"range":[0,1108],"nice":false,"zero":false},"axis":null},"y2":{"datum":898}}},
{"data":{"values":[{"t":"separator"}]},"mark":{"type":"rule","color":"#2a303c","strokeWidth":1.5},"encoding":{"x":{"datum":37,"type":"quantitative","axis":null},"x2":{"datum":1306.5},"y":{"datum":793,"type":"quantitative","axis":null}}},
{"data":{"values":[{"t":"panel"}]},"mark":{"type":"rect","fill":"#151c2b","stroke":"#262d3a","strokeWidth":1.5,"cornerRadius":15},"encoding":{"x":{"datum":1322,"type":"quantitative","axis":null},"x2":{"datum":1595.5},"y":{"datum":217.5,"type":"quantitative","axis":null},"y2":{"datum":641}}},
{"data":{"values":[{"t":"SEIUSDT PERPETUAL"}]},"mark":{"type":"text","align":"left","baseline":"alphabetic","fontWeight":"bold","fontSize":33.1,"color":"#ffffff"},"encoding":{"x":{"datum":38,"type":"quantitative","axis":null},"y":{"datum":61,"type":"quantitative","axis":null},"text":{"field":"t"}}},
{"data":{"values":[{"t":"1h\u00a0\u00a0•\u00a0\u00a0BINANCE FUTURES\u00a0\u00a0•\u00a0\u00a0LONG SIGNAL"}]},"mark":{"type":"text","align":"left","baseline":"alphabetic","fontSize":18,"color":"#7f8796"},"encoding":{"x":{"datum":38,"type":"quantitative","axis":null},"y":{"datum":92.7,"type":"quantitative","axis":null},"text":{"field":"t"}}},
{"data":{"values":[{"t":"WangLoc"}]},"mark":{"type":"text","align":"right","baseline":"alphabetic","fontWeight":"bold","fontSize":26.9,"color":"#ffffff"},"encoding":{"x":{"datum":1554,"type":"quantitative","axis":null},"y":{"datum":55,"type":"quantitative","axis":null},"text":{"field":"t"}}},
{"data":{"values":[{"t":"Futures technical plan"}]},"mark":{"type":"text","align":"right","baseline":"alphabetic","fontSize":17,"color":"#3fb0e6"},"encoding":{"x":{"datum":1554,"type":"quantitative","axis":null},"y":{"datum":86,"type":"quantitative","axis":null},"text":{"field":"t"}}},
{"data":{"values":[{"t":"EMA 20"}]},"mark":{"type":"rule","color":"#ffa726","strokeWidth":3},"encoding":{"x":{"datum":46.7,"type":"quantitative","axis":null},"x2":{"datum":78},"y":{"datum":111.3,"type":"quantitative","axis":null}}},
{"data":{"values":[{"t":"EMA 50"}]},"mark":{"type":"rule","color":"#7c4dff","strokeWidth":3},"encoding":{"x":{"datum":229,"type":"quantitative","axis":null},"x2":{"datum":261},"y":{"datum":111.3,"type":"quantitative","axis":null}}},
{"data":{"values":[{"t":"EMA 20"}]},"mark":{"type":"text","align":"left","baseline":"alphabetic","fontSize":14.8,"color":"#e6e9ee"},"encoding":{"x":{"datum":86.5,"type":"quantitative","axis":null},"y":{"datum":115,"type":"quantitative","axis":null},"text":{"field":"t"}}},
{"data":{"values":[{"t":"EMA 50"}]},"mark":{"type":"text","align":"left","baseline":"alphabetic","fontSize":14.8,"color":"#e6e9ee"},"encoding":{"x":{"datum":268.5,"type":"quantitative","axis":null},"y":{"datum":115,"type":"quantitative","axis":null},"text":{"field":"t"}}},
{"data":{"values":[{"t":"1e6"}]},"mark":{"type":"text","align":"right","baseline":"alphabetic","fontSize":16.5,"color":"#8b93a1"},"encoding":{"x":{"datum":1304.5,"type":"quantitative","axis":null},"y":{"datum":786.7,"type":"quantitative","axis":null},"text":{"field":"t"}}},
{"data":{"values":[{"t":"Volume\u00a0\u00a010"}]},"mark":{"type":"text","align":"left","baseline":"alphabetic","angle":270,"fontSize":16.5,"color":"#e6e9ee"},"encoding":{"x":{"datum":1372,"type":"quantitative","axis":null},"y":{"datum":896,"type":"quantitative","axis":null},"text":{"field":"t"}}},
{"data":{"values":[{"t":"6"}]},"mark":{"type":"text","align":"left","baseline":"alphabetic","angle":270,"fontSize":11.5,"color":"#e6e9ee"},"encoding":{"x":{"datum":1365,"type":"quantitative","axis":null},"y":{"datum":802,"type":"quantitative","axis":null},"text":{"field":"t"}}},
{"data":{"values":[{"t":"ENTRY"}]},"mark":{"type":"text","align":"left","baseline":"alphabetic","fontWeight":"bold","fontSize":16.8,"color":"#3db5ef"},"encoding":{"x":{"datum":1357,"type":"quantitative","axis":null},"y":{"datum":277.3,"type":"quantitative","axis":null},"text":{"field":"t"}}},
{"data":{"values":[{"t":"0.0481"}]},"mark":{"type":"text","align":"right","baseline":"alphabetic","font":"DejaVu Sans Mono","fontWeight":"bold","fontSize":16.5,"color":"#ffffff"},"encoding":{"x":{"datum":1560.5,"type":"quantitative","axis":null},"y":{"datum":277.3,"type":"quantitative","axis":null},"text":{"field":"t"}}},
{"data":{"values":[{"t":"SL"}]},"mark":{"type":"text","align":"left","baseline":"alphabetic","fontWeight":"bold","fontSize":16.8,"color":"#ef4f4f"},"encoding":{"x":{"datum":1357,"type":"quantitative","axis":null},"y":{"datum":325.8,"type":"quantitative","axis":null},"text":{"field":"t"}}},
{"data":{"values":[{"t":"0.04599"}]},"mark":{"type":"text","align":"right","baseline":"alphabetic","font":"DejaVu Sans Mono","fontWeight":"bold","fontSize":16.5,"color":"#ffffff"},"encoding":{"x":{"datum":1560.5,"type":"quantitative","axis":null},"y":{"datum":325.8,"type":"quantitative","axis":null},"text":{"field":"t"}}},
{"data":{"values":[{"t":"TP1"}]},"mark":{"type":"text","align":"left","baseline":"alphabetic","fontWeight":"bold","fontSize":16.5,"color":"#26a69a"},"encoding":{"x":{"datum":1357,"type":"quantitative","axis":null},"y":{"datum":374.3,"type":"quantitative","axis":null},"text":{"field":"t"}}},
{"data":{"values":[{"t":"0.04916"}]},"mark":{"type":"text","align":"right","baseline":"alphabetic","font":"DejaVu Sans Mono","fontWeight":"bold","fontSize":16.5,"color":"#ffffff"},"encoding":{"x":{"datum":1560.5,"type":"quantitative","axis":null},"y":{"datum":374.3,"type":"quantitative","axis":null},"text":{"field":"t"}}},
{"data":{"values":[{"t":"TP2"}]},"mark":{"type":"text","align":"left","baseline":"alphabetic","fontWeight":"bold","fontSize":16.5,"color":"#22b866"},"encoding":{"x":{"datum":1357,"type":"quantitative","axis":null},"y":{"datum":423,"type":"quantitative","axis":null},"text":{"field":"t"}}},
{"data":{"values":[{"t":"0.05021"}]},"mark":{"type":"text","align":"right","baseline":"alphabetic","font":"DejaVu Sans Mono","fontWeight":"bold","fontSize":16.5,"color":"#ffffff"},"encoding":{"x":{"datum":1560.5,"type":"quantitative","axis":null},"y":{"datum":423,"type":"quantitative","axis":null},"text":{"field":"t"}}},
{"data":{"values":[{"t":"TP3"}]},"mark":{"type":"text","align":"left","baseline":"alphabetic","fontWeight":"bold","fontSize":16.5,"color":"#14dca8"},"encoding":{"x":{"datum":1357,"type":"quantitative","axis":null},"y":{"datum":471.7,"type":"quantitative","axis":null},"text":{"field":"t"}}},
{"data":{"values":[{"t":"0.05127"}]},"mark":{"type":"text","align":"right","baseline":"alphabetic","font":"DejaVu Sans Mono","fontWeight":"bold","fontSize":16.5,"color":"#ffffff"},"encoding":{"x":{"datum":1560.5,"type":"quantitative","axis":null},"y":{"datum":471.7,"type":"quantitative","axis":null},"text":{"field":"t"}}},
{"data":{"values":[{"t":"RR"}]},"mark":{"type":"text","align":"left","baseline":"alphabetic","fontWeight":"bold","fontSize":16.5,"color":"#7a8090"},"encoding":{"x":{"datum":1357,"type":"quantitative","axis":null},"y":{"datum":536.3,"type":"quantitative","axis":null},"text":{"field":"t"}}},
{"data":{"values":[{"t":"0.50"}]},"mark":{"type":"text","align":"right","baseline":"alphabetic","font":"DejaVu Sans Mono","fontWeight":"bold","fontSize":16.5,"color":"#ffffff"},"encoding":{"x":{"datum":1560.5,"type":"quantitative","axis":null},"y":{"datum":536.3,"type":"quantitative","axis":null},"text":{"field":"t"}}},
{"data":{"values":[{"t":"Generated from Binance Futures OHLCV • 27 Aug 2026 • 20:58 UTC+7"}]},"mark":{"type":"text","align":"left","baseline":"alphabetic","fontSize":12.85,"color":"#7a8290"},"encoding":{"x":{"datum":38,"type":"quantitative","axis":null},"y":{"datum":1068.5,"type":"quantitative","axis":null},"text":{"field":"t"}}},
{"data":{"values":[{"t":"Educational purpose only. Not financial advice."}]},"mark":{"type":"text","align":"right","baseline":"alphabetic","fontSize":13,"color":"#7a8290"},"encoding":{"x":{"datum":1554,"type":"quantitative","axis":null},"y":{"datum":1047,"type":"quantitative","axis":null},"text":{"field":"t"}}},
{"data":{"values":[{"t":"@WangLoc"}]},"mark":{"type":"text","align":"right","baseline":"alphabetic","fontWeight":"bold","fontSize":14.6,"color":"#ffffff"},"encoding":{"x":{"datum":1554,"type":"quantitative","axis":null},"y":{"datum":1068.5,"type":"quantitative","axis":null},"text":{"field":"t"}}},
{"data":{"values":[{"t":"logo"}]},"mark":{"type":"point","filled":true,"size":756,"color":"#c9ccd1","opacity":0.9,"shape":"M0,-0.2L0.2,0L0,0.2L-0.2,0ZM-0.75,-0.2L-0.55,0L-0.75,0.2L-0.95,0ZM0.75,-0.2L0.95,0L0.75,0.2L0.55,0ZM0,-1L0.6,-0.4L0.36,-0.16L0,-0.52L-0.36,-0.16L-0.6,-0.4ZM0,1L-0.6,0.4L-0.36,0.16L0,0.52L0.36,0.16L0.6,0.4Z"},"encoding":{"x":{"datum":1403,"type":"quantitative","axis":null},"y":{"datum":1082,"type":"quantitative","axis":null}}},
{"data":{"values":[{"t":"logo"}]},"mark":{"type":"point","filled":true,"size":756,"color":"#c9ccd1","opacity":0.9,"shape":"M0,-0.2L0.2,0L0,0.2L-0.2,0ZM-0.75,-0.2L-0.55,0L-0.75,0.2L-0.95,0ZM0.75,-0.2L0.95,0L0.75,0.2L0.55,0ZM0,-1L0.6,-0.4L0.36,-0.16L0,-0.52L-0.36,-0.16L-0.6,-0.4ZM0,1L-0.6,0.4L-0.36,0.16L0,0.52L0.36,0.16L0.6,0.4Z"},"encoding":{"x":{"datum":1474,"type":"quantitative","axis":null},"y":{"datum":1082,"type":"quantitative","axis":null}}},
{"data":{"values":[{"t":"@ NeuralTrader"}]},"mark":{"type":"text","align":"left","baseline":"alphabetic","font":"Liberation Sans","fontSize":23.5,"color":"#c9ccd1","opacity":0.85},"encoding":{"x":{"datum":1420,"type":"quantitative","axis":null},"y":{"datum":1090,"type":"quantitative","axis":null},"text":{"field":"t"}}},
{"data":{"values":[{"t":"@ Mandl.Az"}]},"mark":{"type":"text","align":"right","baseline":"alphabetic","font":"Liberation Sans","fontSize":23.5,"color":"#c9ccd1","opacity":0.85},"encoding":{"x":{"datum":1622,"type":"quantitative","axis":null},"y":{"datum":1090,"type":"quantitative","axis":null},"text":{"field":"t"}}}
]}
]
}
